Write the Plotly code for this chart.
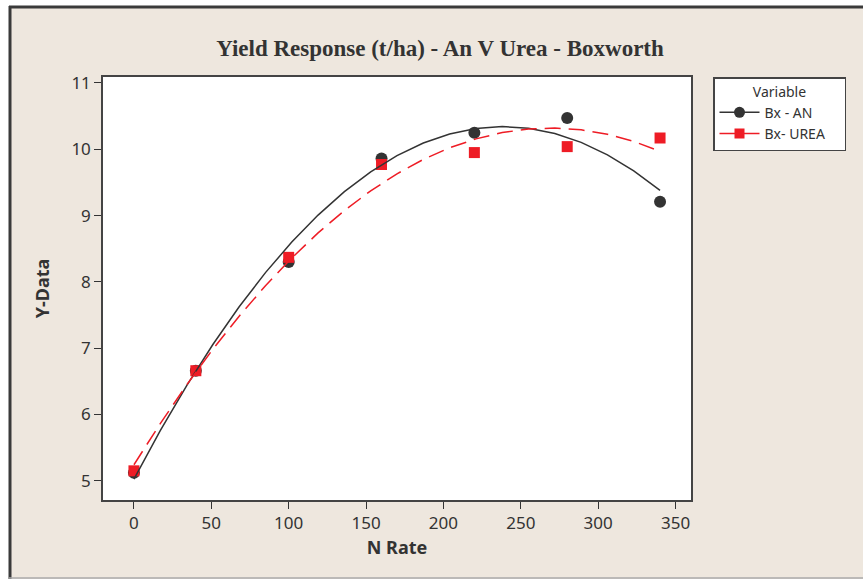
import numpy as np
import plotly.graph_objects as go

n_rate = [0, 40, 100, 160, 220, 280, 340]
bx_an = [5.12, 6.66, 8.30, 9.86, 10.25, 10.47, 9.21]
bx_urea = [5.15, 6.66, 8.37, 9.77, 9.95, 10.04, 10.17]

x_ticks = [0, 50, 100, 150, 200, 250, 300, 350]
y_ticks = [5, 6, 7, 8, 9, 10, 11]

title_text = "Yield Response (t/ha) - An V Urea - Boxworth"
x_title = "N Rate"
y_title = "Y-Data"
legend_title = "Variable"
name_an = "Bx - AN"
name_urea = "Bx- UREA"

BLACK = "#333333"
RED = "#ee1c25"
BEIGE = "#eee7de"

# quadratic regression fits (fitted line plot)
xfit = np.linspace(min(n_rate), max(n_rate), 21)
fit_an = np.polyval(np.polyfit(n_rate, bx_an, 2), xfit)
fit_urea = np.polyval(np.polyfit(n_rate, bx_urea, 2), xfit)

fig = go.Figure()
fig.add_trace(go.Scatter(x=n_rate, y=bx_an, mode="markers",
                         marker=dict(symbol="circle", size=12, color=BLACK),
                         showlegend=False))
fig.add_trace(go.Scatter(x=n_rate, y=bx_urea, mode="markers",
                         marker=dict(symbol="square", size=11, color=RED),
                         showlegend=False))
fig.add_trace(go.Scatter(x=xfit, y=fit_an, mode="lines",
                         line=dict(color=BLACK, width=1.5), showlegend=False))
fig.add_trace(go.Scatter(x=xfit, y=fit_urea, mode="lines",
                         line=dict(color=RED, width=1.5, dash="16px,8px"),
                         showlegend=False))
# legend entries
fig.add_trace(go.Scatter(x=[None], y=[None], mode="lines+markers",
                         name=name_an + "\u00a0" * 5,
                         marker=dict(symbol="circle", size=11, color=BLACK),
                         line=dict(color=BLACK, width=1.5)))
fig.add_trace(go.Scatter(x=[None], y=[None], mode="lines+markers",
                         name=name_urea + "\u00a0" * 4,
                         marker=dict(symbol="square", size=10, color=RED),
                         line=dict(color=RED, width=1.5)))

# plot area in px: x 103..691, y 77..500
L, R, T, B = 103, 691, 77, 500
W, H = 863, 579
def px(xp):
    return (xp - L) / (R - L)
def py(yp):
    return (B - yp) / (B - T)

shapes = [
    # white outer strips
    dict(type="rect", xref="paper", yref="paper", x0=px(-5), x1=px(9), y0=py(590), y1=py(-5),
         fillcolor="white", line=dict(width=0), layer="above"),
    dict(type="rect", xref="paper", yref="paper", x0=px(-5), x1=px(870), y0=py(6), y1=py(-5),
         fillcolor="white", line=dict(width=0), layer="above"),
    # frame lines
    dict(type="line", xref="paper", yref="paper", x0=px(10), x1=px(10), y0=py(6), y1=py(590),
         line=dict(color="#3a3a3a", width=3), layer="above"),
    dict(type="line", xref="paper", yref="paper", x0=px(9), x1=px(870), y0=py(7), y1=py(7),
         line=dict(color="#3a3a3a", width=3), layer="above"),
    dict(type="line", xref="paper", yref="paper", x0=px(9), x1=px(870), y0=py(578), y1=py(578),
         line=dict(color="#aaaaaa", width=1.5), layer="above"),
]

fig.update_layout(
    width=W, height=H,
    margin=dict(l=L, r=W - R, t=T, b=H - B, autoexpand=False),
    paper_bgcolor=BEIGE, plot_bgcolor="white",
    title=dict(text="<b>" + title_text + "</b>", x=px(440), xref="paper", xanchor="center",
               y=1 - 48 / H, yref="container", yanchor="middle",
               font=dict(family="Liberation Serif", size=23, color=BLACK)),
    font=dict(family="Noto Sans", color=BLACK),
    shapes=shapes,
    legend=dict(x=px(713), y=py(77), xanchor="left", yanchor="top",
                bgcolor="white", bordercolor="#444444", borderwidth=1.5,
                font=dict(family="Noto Sans", size=14, color=BLACK),
                title=dict(text=legend_title, side="top center",
                           font=dict(family="Noto Sans", size=14, color=BLACK)),
                tracegroupgap=0, itemwidth=40),
)
fig.update_xaxes(range=[-20, 360], tickvals=x_ticks, ticks="outside", ticklen=7,
                 tickcolor=BLACK, tickwidth=1, showline=True, linecolor="#444444",
                 linewidth=1.5, mirror=True, showgrid=False, zeroline=False,
                 tickfont=dict(size=17, color=BLACK),
                 title=dict(text="<b>" + x_title + "</b>", font=dict(size=18, color=BLACK),
                            standoff=8))
fig.update_yaxes(range=[4.71, 11.09], tickvals=y_ticks, ticks="outside", ticklen=7,
                 tickcolor=BLACK, tickwidth=1, showline=True, linecolor="#444444",
                 linewidth=1.5, mirror=True, showgrid=False, zeroline=False,
                 tickfont=dict(size=17, color=BLACK),
                 title=dict(text="<b>" + y_title + "</b>", font=dict(size=18, color=BLACK),
                            standoff=17))

fig.write_html("out.html")
